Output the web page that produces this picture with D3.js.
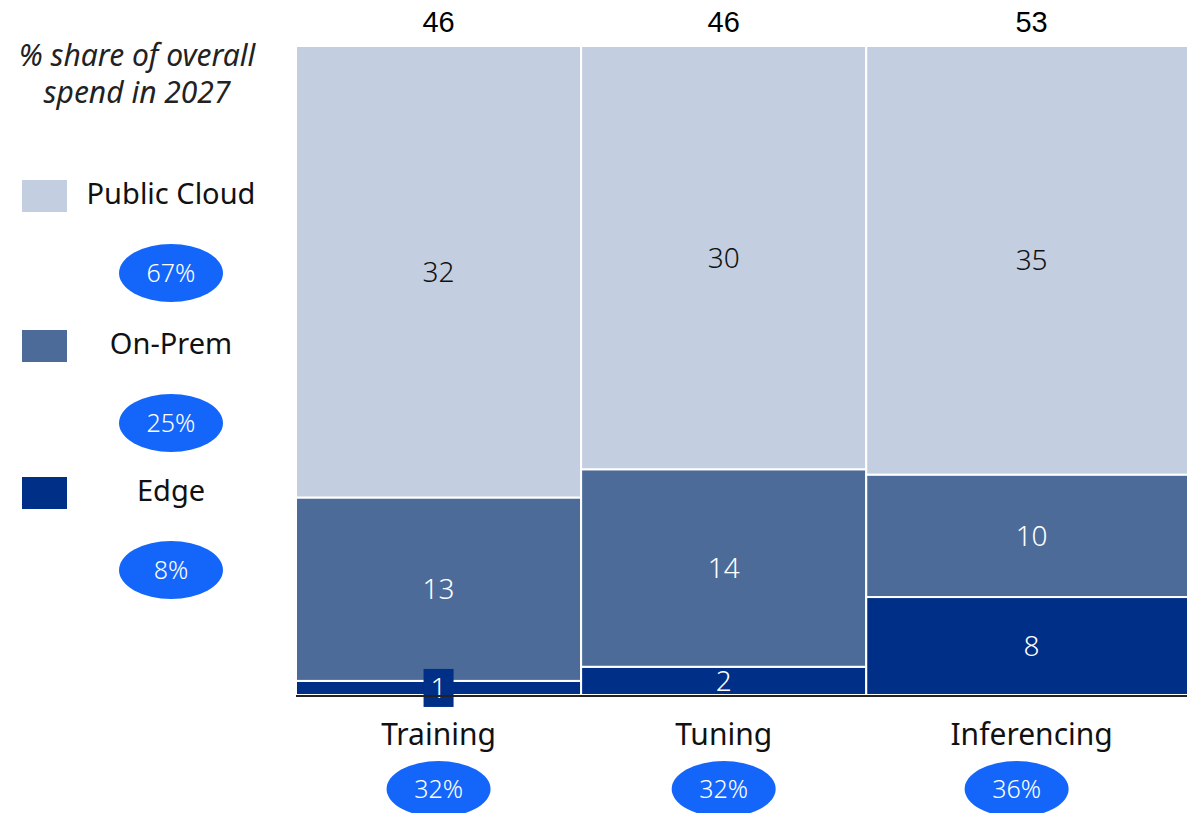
<!DOCTYPE html>
<html>
<head>
<meta charset="utf-8">
<script src="https://cdn.jsdelivr.net/npm/d3@7"></script>
<style>
  html, body { margin: 0; padding: 0; background: #ffffff; }
  svg { display: block; font-family: "Noto Sans", "DejaVu Sans", sans-serif; }
</style>
</head>
<body>
<svg id="chart" width="1187" height="813"></svg>
<script>
// Workload categories and their share of total spend (column widths)
const categories = ["Training", "Tuning", "Inferencing"];
const categoryShare = [32, 32, 36];
const categoryTotals = [46, 46, 53];

// Deployment segments, stacked bottom to top
const segments = ["Edge", "On-Prem", "Public Cloud"];
const edgeValues = [1, 2, 8];
const onPremValues = [13, 14, 10];
const publicCloudValues = [32, 30, 35];

// Legend entries (top to bottom) with their overall share
const legendNames = ["Public Cloud", "On-Prem", "Edge"];
const legendShare = [67, 25, 8];

const colors = {
  "Public Cloud": "#c3cee0",
  "On-Prem": "#4c6b99",
  "Edge": "#002f87"
};
const labelColor = {
  "Public Cloud": "#111111",
  "On-Prem": "#ffffff",
  "Edge": "#ffffff"
};
const badgeColor = "#1466fa";

const svg = d3.select("#chart");

// The last column runs slightly past the right edge of the page
const plot = { left: 296, right: 1187, top: 46, bottom: 695, bleed: 10 };

const x = d3.scaleLinear().domain([0, d3.sum(categoryShare)]).range([plot.left, plot.right]);
const y = d3.scaleLinear().domain([0, 1]).range([plot.bottom, plot.top]);

// Build column data
const valuesBySegment = { "Edge": edgeValues, "On-Prem": onPremValues, "Public Cloud": publicCloudValues };
let cumShare = 0;
const columns = categories.map((c, i) => {
  const x0 = cumShare;
  cumShare += categoryShare[i];
  const total = segments.reduce((s, k) => s + valuesBySegment[k][i], 0);
  let acc = 0;
  const parts = segments.map(k => {
    const v = valuesBySegment[k][i];
    const p = { key: k, value: v, y0: acc / total, y1: (acc + v) / total };
    acc += v;
    return p;
  });
  const last = i === categories.length - 1;
  return { name: c, share: categoryShare[i], total: categoryTotals[i], x0, x1: cumShare, extra: last ? plot.bleed : 0, parts };
});

const col = svg.selectAll("g.col").data(columns).join("g").attr("class", "col");

col.selectAll("rect.seg")
  .data(d => d.parts.map(p => ({ ...p, x0: d.x0, x1: d.x1, extra: d.extra })))
  .join("rect")
  .attr("class", "seg")
  .attr("x", d => x(d.x0))
  .attr("width", d => x(d.x1) - x(d.x0) + d.extra)
  .attr("y", d => y(d.y1))
  .attr("height", d => y(d.y0) - y(d.y1))
  .attr("fill", d => colors[d.key])
  .attr("stroke", "#ffffff")
  .attr("stroke-width", 2);

// Segment value labels
col.each(function (d) {
  const g = d3.select(this);
  const cx = (x(d.x0) + x(d.x1) + d.extra) / 2;
  const visibleCx = (x(d.x0) + x(d.x1)) / 2;
  d.parts.forEach(p => {
    const cy = (y(p.y0) + y(p.y1)) / 2;
    const h = y(p.y0) - y(p.y1);
    if (h < 20) {
      // thin segment: label sits on a small box of the segment colour
      g.append("rect")
        .attr("x", cx - 15).attr("y", cy - 19)
        .attr("width", 30).attr("height", 38)
        .attr("fill", colors[p.key]);
    }
    g.append("text")
      .attr("x", cx).attr("y", cy)
      .attr("dy", "0.36em")
      .attr("text-anchor", "middle")
      .attr("font-size", 28)
      .attr("font-weight", 300)
      .attr("fill", labelColor[p.key])
      .text(p.value);
  });

  // Column total above
  g.append("text")
    .attr("x", cx).attr("y", 22)
    .attr("dy", "0.36em")
    .attr("text-anchor", "middle")
    .attr("font-family", "'Liberation Sans Narrow', 'Liberation Sans', sans-serif")
    .attr("font-size", 29)
    .attr("fill", "#000000")
    .text(d.total);

  // Category label and share badge
  g.append("text")
    .attr("x", cx).attr("y", 734)
    .attr("dy", "0.36em")
    .attr("text-anchor", "middle")
    .attr("font-size", 30)
    .attr("fill", "#111111")
    .text(d.name);

  g.append("ellipse")
    .attr("cx", visibleCx - d.extra).attr("cy", 789)
    .attr("rx", 52).attr("ry", 28)
    .attr("fill", badgeColor);
  g.append("text")
    .attr("x", visibleCx - d.extra).attr("y", 789)
    .attr("dy", "0.36em")
    .attr("text-anchor", "middle")
    .attr("font-size", 25)
    .attr("font-weight", 300)
    .attr("fill", "#ffffff")
    .text(d.share + "%");
});

// Baseline
svg.append("line")
  .attr("x1", plot.left).attr("x2", plot.right)
  .attr("y1", plot.bottom + 1).attr("y2", plot.bottom + 1)
  .attr("stroke", "#222222")
  .attr("stroke-width", 2);

// Legend title
const title = svg.append("text")
  .attr("text-anchor", "middle")
  .attr("font-size", 30)
  .attr("font-style", "italic")
  .attr("fill", "#222222");
title.append("tspan").attr("x", 137).attr("y", 55).attr("dy", "0.36em").text("% share of overall");
title.append("tspan").attr("x", 137).attr("y", 92).attr("dy", "0.36em").text("spend in 2027");

// Legend rows
const legendY = [196, 346, 493];
const leg = svg.selectAll("g.leg").data(legendNames).join("g").attr("class", "leg");
leg.append("rect")
  .attr("x", 22).attr("y", (d, i) => legendY[i] - 16)
  .attr("width", 45).attr("height", 32)
  .attr("fill", d => colors[d]);
leg.append("text")
  .attr("x", 171).attr("y", (d, i) => legendY[i] - 2)
  .attr("dy", "0.36em")
  .attr("text-anchor", "middle")
  .attr("font-size", 29)
  .attr("fill", "#111111")
  .text(d => d);
leg.append("ellipse")
  .attr("cx", 171).attr("cy", (d, i) => legendY[i] + 77)
  .attr("rx", 52).attr("ry", 29)
  .attr("fill", badgeColor);
leg.append("text")
  .attr("x", 171).attr("y", (d, i) => legendY[i] + 77)
  .attr("dy", "0.36em")
  .attr("text-anchor", "middle")
  .attr("font-size", 25)
  .attr("font-weight", 300)
  .attr("fill", "#ffffff")
  .text((d, i) => legendShare[i] + "%");
</script>
</body>
</html>
